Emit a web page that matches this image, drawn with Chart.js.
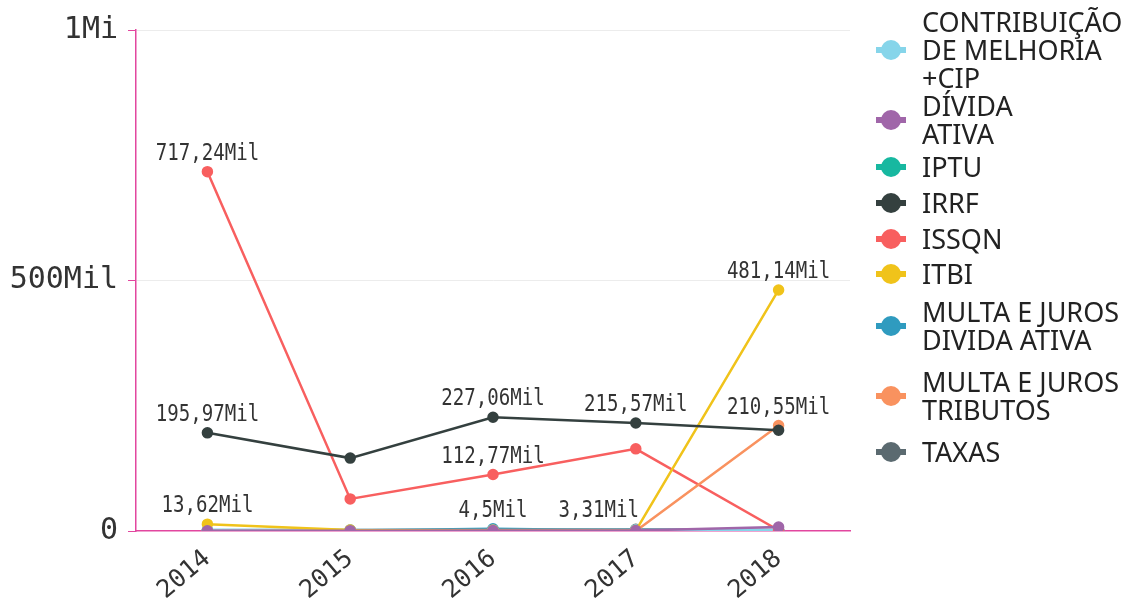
<!DOCTYPE html>
<html><head><meta charset="utf-8">
<script src="https://cdn.jsdelivr.net/npm/chart.js@4.4.1/dist/chart.umd.min.js"></script>
<style>
html,body{margin:0;padding:0;background:#fff;}
#wrap{position:relative;width:1140px;height:599px;overflow:hidden;}
#c{position:absolute;left:0;top:0;}
#legend{position:absolute;left:876px;top:0;font-family:"Noto Sans",sans-serif;font-size:27px;line-height:28px;color:#222;}
.item{display:flex;align-items:center;}
.mk{position:relative;width:30px;height:20px;margin-right:16px;flex:none;}
.mk .ln{position:absolute;left:0;top:7px;width:30px;height:6px;}
.mk .dot{position:absolute;left:5px;top:0;width:20px;height:20px;border-radius:50%;}
</style></head>
<body>
<div id="wrap"><canvas id="c" width="1140" height="599"></canvas><div id="legend"></div></div>
<script>
// ---- data ----
const years = ['2014', '2015', '2016', '2017', '2018'];
const seriesNames = [
  ['CONTRIBUIÇÃO', 'DE MELHORIA', '+CIP'],
  ['DÍVIDA', 'ATIVA'],
  ['IPTU'],
  ['IRRF'],
  ['ISSQN'],
  ['ITBI'],
  ['MULTA E JUROS', 'DIVIDA ATIVA'],
  ['MULTA E JUROS', 'TRIBUTOS'],
  ['TAXAS']
];
const contribuicao   = [2500, 2000, 2200, 2400, 2000];
const dividaAtiva    = [600, 700, 800, 900, 8000];
const iptu           = [300, 300, 300, 300, 300];
const irrf           = [195970, 145500, 227060, 215570, 201000];
const issqn          = [717240, 64000, 112770, 164000, 1500];
const itbi           = [13620, 2000, 1500, 800, 481140];
const multaDivida    = [800, 1000, 4500, 1200, 900];
const multaTributos  = [0, 0, 0, 0, 210550];
const taxas          = [1500, 1800, 2500, 3310, 2000];
// which points carry a value label
const labelsIrrf     = [true, false, true, true, false];
const labelsIssqn    = [true, false, true, false, false];
const labelsItbi     = [true, false, false, false, true];
const labelsMultaDiv = [false, false, true, false, false];
const labelsMultaTrb = [false, false, false, false, true];
const labelsTaxas    = [false, false, false, true, false];
const yTicks = [0, 500000, 1000000];

const colors = ['#86d5ea', '#a066a9', '#17b8a0', '#34403f', '#f85f5f', '#f0c31a', '#2f9bbf', '#f9925f', '#5b6a70'];
const values = [contribuicao, dividaAtiva, iptu, irrf, issqn, itbi, multaDivida, multaTributos, taxas];
const showLabels = [null, null, null, labelsIrrf, labelsIssqn, labelsItbi, labelsMultaDiv, labelsMultaTrb, labelsTaxas];
const drawOrder = [3, 0, 4, 1, 2, 1, 5, 1, 4];

function fmt(v) {
  if (v >= 1000000) return String(v / 1000000).replace('.', ',') + 'Mi';
  if (v >= 1000) {
    let s = (v / 1000).toFixed(2).replace(/\.?0+$/, '');
    return s.replace('.', ',') + 'Mil';
  }
  return String(v);
}

const MAG = '#e2479f';
const labelShift = {'8:3': -37};

const valueLabels = {
  id: 'valueLabels',
  afterDatasetsDraw(chart) {
    const ctx = chart.ctx;
    chart.data.datasets.forEach((ds, di) => {
      const show = showLabels[di];
      if (!show) return;
      const meta = chart.getDatasetMeta(di);
      show.forEach((s, i) => {
        if (!s) return;
        const pt = meta.data[i];
        const dx = labelShift[di + ':' + i] || 0;
        ctx.save();
        ctx.font = '23px "DejaVu Sans Mono"';
        ctx.fillStyle = '#333';
        ctx.textAlign = 'center';
        ctx.textBaseline = 'alphabetic';
        ctx.translate(pt.x + dx, pt.y - 12);
        ctx.scale(0.83, 1);
        ctx.fillText(fmt(ds.data[i]), 0, 0);
        ctx.restore();
      });
    });
  }
};

const datasets = values.map((v, i) => ({
  label: seriesNames[i].join(' '),
  data: v,
  borderColor: colors[i],
  backgroundColor: colors[i],
  pointBackgroundColor: colors[i],
  pointBorderColor: colors[i],
  borderWidth: 2.5,
  pointRadius: 4.5,
  pointHoverRadius: 4.5,
  tension: 0,
  order: drawOrder[i]
}));

new Chart(document.getElementById('c'), {
  type: 'line',
  data: {labels: years, datasets},
  options: {
    responsive: false,
    animation: false,
    layout: {padding: {top: 30, right: 290, left: 0, bottom: 0}},
    plugins: {legend: {display: false}, tooltip: {enabled: false}},
    scales: {
      x: {
        offset: true,
        grid: {display: false},
        border: {display: true, color: MAG, width: 1.5},
        ticks: {
          minRotation: 40, maxRotation: 40, padding: 5,
          color: '#333', font: {family: 'DejaVu Sans Mono', size: 25}
        },
        afterFit(s) { s.height = 68; }
      },
      y: {
        min: 0, max: 1000000,
        afterBuildTicks(s) { s.ticks = yTicks.map(v => ({value: v})); },
        grid: {
          color: (c) => c.tick && c.tick.value === 0 ? 'rgba(0,0,0,0)' : '#ececec',
          tickColor: MAG, tickLength: 8, lineWidth: 1
        },
        border: {display: true, color: MAG, width: 1.5},
        ticks: {
          padding: 10, color: '#333',
          font: {family: 'DejaVu Sans Mono', size: 30},
          callback: (v) => fmt(v)
        },
        afterFit(s) { s.width = 136; }
      }
    }
  },
  plugins: [valueLabels]
});

// ---- HTML legend ----
const gaps = [8, 0, 5, 8, 8, 7, 10, 14, 14];
const lg = document.getElementById('legend');
seriesNames.forEach((name, i) => {
  const it = document.createElement('div');
  it.className = 'item';
  it.style.marginTop = gaps[i] + 'px';
  const mk = document.createElement('div');
  mk.className = 'mk';
  mk.innerHTML = '<div class="ln" style="background:' + colors[i] + '"></div><div class="dot" style="background:' + colors[i] + '"></div>';
  const tx = document.createElement('div');
  tx.innerHTML = name.join('<br>');
  it.appendChild(mk); it.appendChild(tx);
  lg.appendChild(it);
});
</script>
</body></html>
